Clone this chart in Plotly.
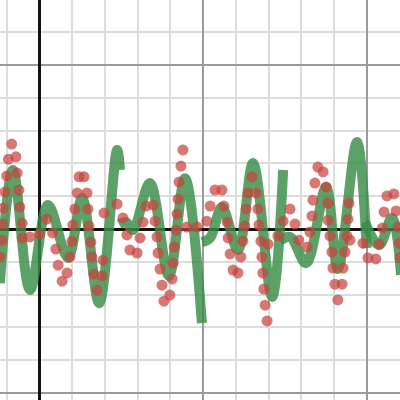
import plotly.graph_objects as go

# 绿色曲线（分段，None 表示断开）
curve_x = [-1.21, -0.81, -0.29, 0.26, 0.87, 1.30, 1.82, 2.37, 2.46, None,
           2.43, 2.64, 2.85, 3.37, 3.95, 4.44, 4.96, None,
           4.96, 5.21, 5.57, 6.06, 6.52, 7.10, 7.44, None,
           7.34, 7.65, 8.14, 8.75, 9.11, 9.69, 9.99, None,
           9.94, 10.37, 10.76, 11.04]
curve_y = [-1.65, 1.80, -1.86, 0.73, -0.88, 0.95, -2.26, 2.41, 1.80, None,
           0.15, 0.21, -0.03, 1.40, -1.43, 1.55, -2.87, None,
           -0.40, -0.27, 0.67, -0.64, 2.01, -2.07, 1.80, None,
           -0.37, -0.24, -1.04, 1.28, -1.22, 2.65, -0.58, None,
           0.21, -0.49, 0.34, -1.40]

# 红色散点
pts_x = [-0.85, -0.95, -0.72, -1.00, -0.68, -1.05, -0.63, -1.10, -0.60, -1.12,
         -0.53, -1.15, -0.53, -1.21, -0.29, 0.00, 0.22, 0.40, 0.50, 0.57,
         0.84, 0.69, 1.21, 1.36, 1.15, 1.45, 1.08, 1.48, 1.02, 1.51,
         0.99, 1.57, 0.93, 1.60, 1.66, 1.91, 1.76, 1.94, 1.97, 2.37,
         2.55, 2.67, 2.76, 2.98, 3.07, 3.16, 3.25, 3.47, 3.53, 3.59,
         3.62, 3.68, 3.74, 3.80, 3.98, 4.05, 4.08, 4.11, 4.17, 4.20,
         4.23, 4.26, 4.32, 4.38, 4.50, 4.81, 5.11, 5.21, 5.36, 5.57,
         5.63, 5.73, 5.76, 5.82, 5.91, 6.06, 6.15, 6.21, 6.27, 6.31,
         6.37, 6.49, 6.61, 6.67, 6.70, 6.76, 6.79, 6.82, 6.85, 6.89,
         6.95, 6.98, 7.28, 7.44, 7.65, 7.80, 7.92, 8.17, 8.26, 8.32,
         8.35, 8.41, 8.50, 8.66, 8.75, 8.81, 8.81, 8.87, 8.93, 8.96,
         9.02, 9.11, 9.24, 9.27, 9.33, 9.39, 9.42, 9.45, 9.48, 9.88,
         10.03, 10.27, 10.37, 10.47, 10.52, 10.61, 10.82, 10.89, 10.95, 10.98,
         11.01]
pts_y = [2.59, 2.13, 2.20, 1.62, 1.71, 1.13, 1.19, 0.64, 0.67, 0.15,
         0.18, -0.34, -0.27, -0.85, -0.24, -0.15, 0.30, -0.12, -0.61, -1.10,
         -1.34, -1.59, 1.59, 1.59, 1.10, 1.10, 0.61, 0.61, 0.12, 0.09,
         -0.37, -0.40, -0.85, -0.85, -1.37, -1.43, -1.86, -0.95, 0.49, 0.76,
         0.34, -0.18, -0.64, -0.73, -0.27, 0.21, 0.70, 0.73, 0.24, -0.24,
         -0.73, -1.22, -1.71, -2.20, -2.01, -1.52, -1.04, -0.55, -0.03, 0.46,
         0.91, 1.43, 1.92, 2.41, 0.06, 0.06, 0.24, 0.70, 1.19, 1.19,
         0.70, 0.21, -0.27, -0.76, -1.25, -1.34, -0.85, -0.37, 0.09, 0.61,
         1.10, 1.59, 1.10, 0.61, 0.12, -0.37, -0.85, -1.34, -1.83, -2.32,
         -2.80, -0.46, -0.21, 0.24, 0.61, 0.15, -0.34, -0.55, -0.09, 0.40,
         0.88, 1.40, 1.89, 1.74, 1.28, 0.79, 0.27, -0.21, -0.70, -1.19,
         -1.68, -2.16, -1.68, -1.19, -0.70, -0.21, 0.30, 0.79, -0.34, -0.43,
         -0.88, -0.91, -0.46, 0.03, 0.52, 1.01, 1.07, 0.55, 0.06, -0.43,
         -0.88]

fig = go.Figure()
fig.add_trace(go.Scatter(
    x=curve_x, y=curve_y, mode="lines",
    line=dict(color="rgba(56,140,70,0.82)", width=10, shape="spline", smoothing=1),
    connectgaps=False, hoverinfo="skip",
))
fig.add_trace(go.Scatter(
    x=pts_x, y=pts_y, mode="markers",
    marker=dict(color="rgba(199,68,64,0.72)", size=11, line=dict(width=0)),
    hoverinfo="skip",
))

axis_common = dict(
    dtick=5, tick0=0,
    showgrid=True, gridcolor="#9a9a9a", gridwidth=2,
    minor=dict(dtick=1, tick0=0, showgrid=True, gridcolor="#dcdcdc", gridwidth=2),
    zeroline=True, zerolinecolor="#111111", zerolinewidth=3,
    showticklabels=False, ticks="", showline=False, fixedrange=True,
)
fig.update_xaxes(range=[-1.206, 11.008], **axis_common)
fig.update_yaxes(range=[-5.21, 6.98], **axis_common)
fig.update_layout(
    width=400, height=400,
    margin=dict(l=0, r=0, t=0, b=0),
    paper_bgcolor="white", plot_bgcolor="white",
    showlegend=False,
)
fig.write_html(
    "out.html",
    config={"displayModeBar": False},
    post_script="document.body.style.margin='0';document.body.style.overflow='hidden';",
)
